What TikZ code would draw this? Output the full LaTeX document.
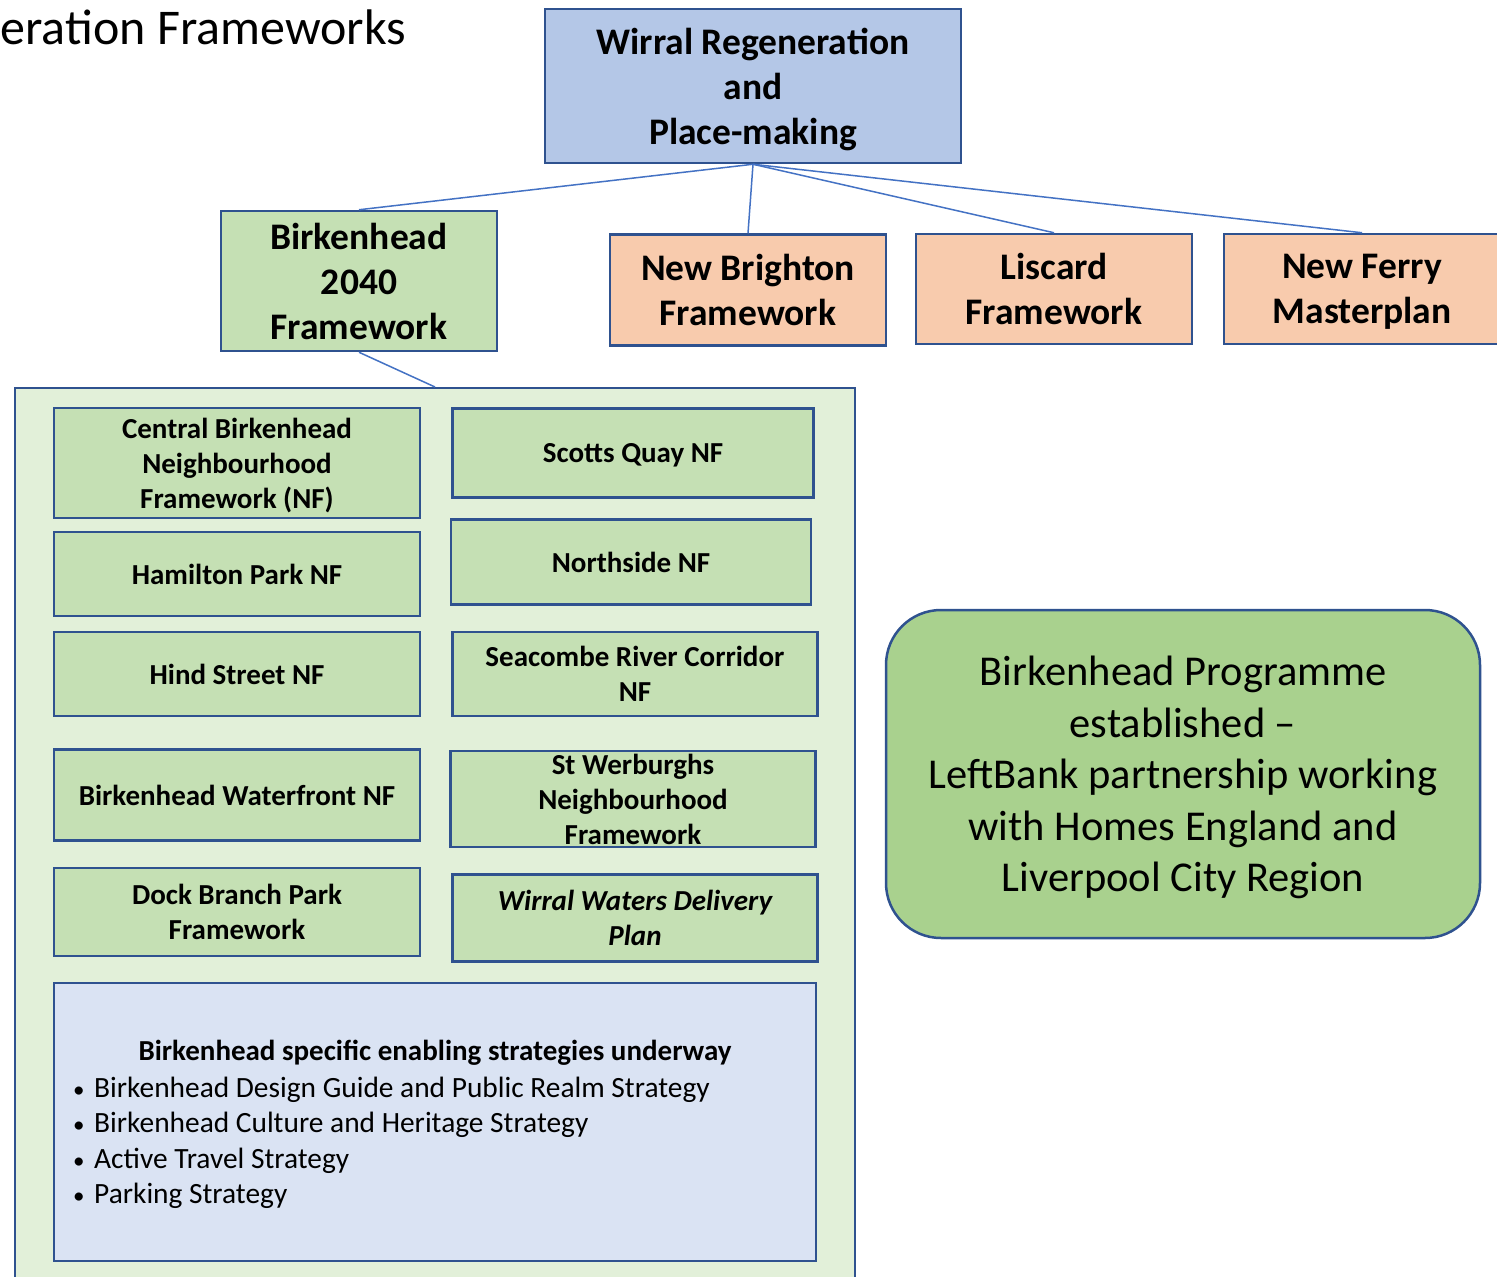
\documentclass[tikz,border=0pt]{standalone}
\usepackage{fontspec}
\setmainfont{Carlito}
\definecolor{topblue}{HTML}{B4C7E7}
\definecolor{boxgreen}{HTML}{C5E0B4}
\definecolor{boxorange}{HTML}{F8CBAD}
\definecolor{panelgreen}{HTML}{E2F0D9}
\definecolor{stratblue}{HTML}{DAE3F3}
\definecolor{proggreen}{HTML}{A9D18E}
\definecolor{bordblue}{HTML}{2F528F}
\definecolor{linkblue}{HTML}{4472C4}
\tikzstyle{box} = [rectangle, draw=bordblue, line width=2.5pt, align=center, inner sep=2pt, text depth=0pt]
\tikzstyle{headbox} = [box, font=\bfseries\fontsize{37.5}{45}\selectfont, minimum width=276pt]
\tikzstyle{nfbox} = [box, fill=boxgreen, font=\bfseries\fontsize{29}{35}\selectfont]
\tikzstyle{line} = [draw, linkblue, line width=1.5pt]
\newcommand{\stratbullet}{\makebox[21pt][l]{\fontsize{23}{23}\selectfont•}}

\begin{document}
\begin{tikzpicture}[x=1pt, y=-1pt]
		\clip (0,0) rectangle (1497,1277);
		\fill[white] (0,0) rectangle (1497,1277);
		\node [anchor=base west, font=\fontsize{50}{60}\selectfont] (title) at (-3,44) {eration Frameworks};

		\node [headbox, fill=topblue, minimum width=416pt, minimum height=154pt] (wirral) at (753,86) {Wirral Regeneration\\and\\Place-making};
		\node [headbox, fill=boxgreen, minimum height=140pt] (b2040) at (359,281) {Birkenhead\\2040\\Framework};
		\node [headbox, fill=boxorange, minimum height=111pt] (brighton) at (748,290) {New Brighton\\Framework};
		\node [headbox, fill=boxorange, minimum height=110pt] (liscard) at (1054,289) {Liscard\\Framework};
		\node [headbox, fill=boxorange, minimum height=110pt] (ferry) at (1362,289) {New Ferry\\Masterplan};

		\node [box, line width=2pt, fill=panelgreen, minimum width=840pt, minimum height=910pt] (panel) at (435,843) {};

		\node [nfbox, minimum width=366pt, minimum height=110pt] (central) at (237,463) {Central Birkenhead\\Neighbourhood\\Framework (NF)};
		\node [nfbox, minimum width=366pt, minimum height=84pt] (hamilton) at (237,574) {Hamilton Park NF};
		\node [nfbox, minimum width=366pt, minimum height=84pt] (hind) at (237,674) {Hind Street NF};
		\node [nfbox, minimum width=366pt, minimum height=91pt] (waterfront) at (237,795) {Birkenhead Waterfront NF};
		\node [nfbox, minimum width=366pt, minimum height=88pt] (dock) at (237,912) {Dock Branch Park\\Framework};

		\node [nfbox, minimum width=361pt, minimum height=89pt] (scotts) at (633,453) {Scotts Quay NF};
		\node [nfbox, minimum width=360pt, minimum height=85pt] (northside) at (631,562) {Northside NF};
		\node [nfbox, minimum width=365pt, minimum height=84pt] (seacombe) at (635,674) {Seacombe River Corridor\\NF};
		\node [nfbox, minimum width=365pt, minimum height=96pt] (werburghs) at (633,799) {St Werburghs\\Neighbourhood\\Framework};
		\node [nfbox, minimum width=365pt, minimum height=87pt, font=\bfseries\itshape\fontsize{29}{35}\selectfont] (waters) at (635,918) {Wirral Waters Delivery\\Plan};

		\node [box, fill=stratblue, minimum width=762pt, minimum height=278pt] (strat) at (435,1122) {};
		\node [font=\bfseries\fontsize{29}{35}\selectfont] (strathead) at (435,1053) {Birkenhead specific enabling strategies underway};
		\node [anchor=north west, align=left, inner sep=0pt, font=\fontsize{29.4}{35.3}\selectfont] (stratlist) at (73,1077) {%
			\stratbullet Birkenhead Design Guide and Public Realm Strategy\\
			\stratbullet Birkenhead Culture and Heritage Strategy\\
			\stratbullet Active Travel Strategy\\
			\stratbullet Parking Strategy};

		\node [box, fill=proggreen, rounded corners=55pt, minimum width=594pt, minimum height=328pt, font=\fontsize{42.5}{51.5}\selectfont] (programme) at (1183,774) {Birkenhead Programme\\established –\\LeftBank partnership working\\with Homes England and\\Liverpool City Region};

		\path [line] (wirral.south) -- (b2040.north);
		\path [line] (wirral.south) -- (brighton.north);
		\path [line] (wirral.south) -- (liscard.north);
		\path [line] (wirral.south) -- (ferry.north);
		\path [line] (b2040.south) -- (panel.north);
	\end{tikzpicture}
\end{document}
